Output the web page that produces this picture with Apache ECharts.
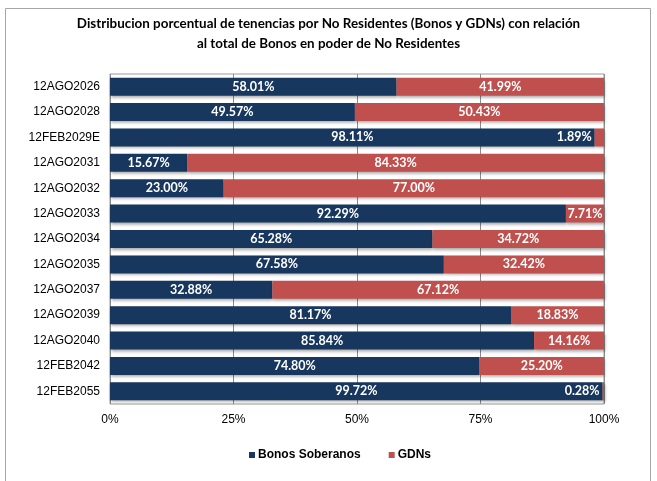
<!DOCTYPE html>
<html><head><meta charset="utf-8">
<script src="https://cdn.jsdelivr.net/npm/echarts@6/dist/echarts.min.js"></script>
<style>html,body{margin:0;padding:0;background:#fff}#c{width:657px;height:481px}</style>
</head><body><div id="c"></div>
<script>
const categories = ['12AGO2026','12AGO2028','12FEB2029E','12AGO2031','12AGO2032','12AGO2033','12AGO2034','12AGO2035','12AGO2037','12AGO2039','12AGO2040','12FEB2042','12FEB2055'];
const bonos = [58.01,49.57,98.11,15.67,23.00,92.29,65.28,67.58,32.88,81.17,85.84,74.80,99.72];
const gdns = [41.99,50.43,1.89,84.33,77.00,7.71,34.72,32.42,67.12,18.83,14.16,25.20,0.28];
const xTicks = [0,25,50,75,100];

const chart = echarts.init(document.getElementById('c'));
const lblFont = {color:'#fff', fontFamily:'Lato', fontWeight:'bold', fontSize:12.5};
chart.setOption({
  animation:false,
  graphic:[{type:'rect', shape:{x:5.5,y:8.5,width:645,height:490}, style:{fill:'none', stroke:'#a6a6a6', lineWidth:1}}],
  title:{text:'Distribucion porcentual de tenencias por No Residentes (Bonos y GDNs) con relación\nal total de Bonos en poder de No Residentes',
    left:'center', top:9,
    textStyle:{fontFamily:'Lato', fontWeight:'bold', fontSize:13.4, lineHeight:20, color:'#000', align:'center'}},
  legend:{top:444, left:244, itemWidth:6, itemHeight:6, itemGap:28, icon:'rect',
    textStyle:{fontFamily:'Liberation Sans', fontWeight:'bold', fontSize:12, color:'#000', padding:[0,0,0,-2]},
    data:['Bonos Soberanos','GDNs']},
  grid:{left:110, right:53, top:74, bottom:77, show:true, borderColor:'#9a9a9a', borderWidth:1},
  xAxis:{type:'value', min:0, max:100, interval:25,
    axisLine:{show:false}, axisTick:{show:false},
    splitLine:{lineStyle:{color:'#8c8c8c', width:1}},
    axisLabel:{formatter:v=>xTicks.includes(v)?v+'%':'', margin:10, fontFamily:'Liberation Sans', fontSize:12, color:'#000'}},
  yAxis:{type:'category', data:categories, inverse:true,
    axisLine:{show:false}, axisTick:{show:false},
    axisLabel:{margin:10, fontFamily:'Liberation Sans', fontSize:12, color:'#000'}},
  series:[
    {name:'Bonos Soberanos', type:'bar', stack:'t', barWidth:18, data:bonos,
      itemStyle:{color:'#17375E', shadowColor:'rgba(0,0,0,0.35)', shadowBlur:3, shadowOffsetX:1, shadowOffsetY:2},
      label:Object.assign({show:true, position:'inside', formatter:p=>p.value.toFixed(2)+'%'}, lblFont)},
    {name:'GDNs', type:'bar', stack:'t', barWidth:18,
      data:gdns.map(v=>v<3?{value:v,label:{position:'left', distance:3}}:v),
      itemStyle:{color:'#C0504D', shadowColor:'rgba(0,0,0,0.35)', shadowBlur:3, shadowOffsetX:1, shadowOffsetY:2},
      label:Object.assign({show:true, position:'inside', formatter:p=>p.value.toFixed(2)+'%'}, lblFont)}
  ]
});
</script></body></html>
